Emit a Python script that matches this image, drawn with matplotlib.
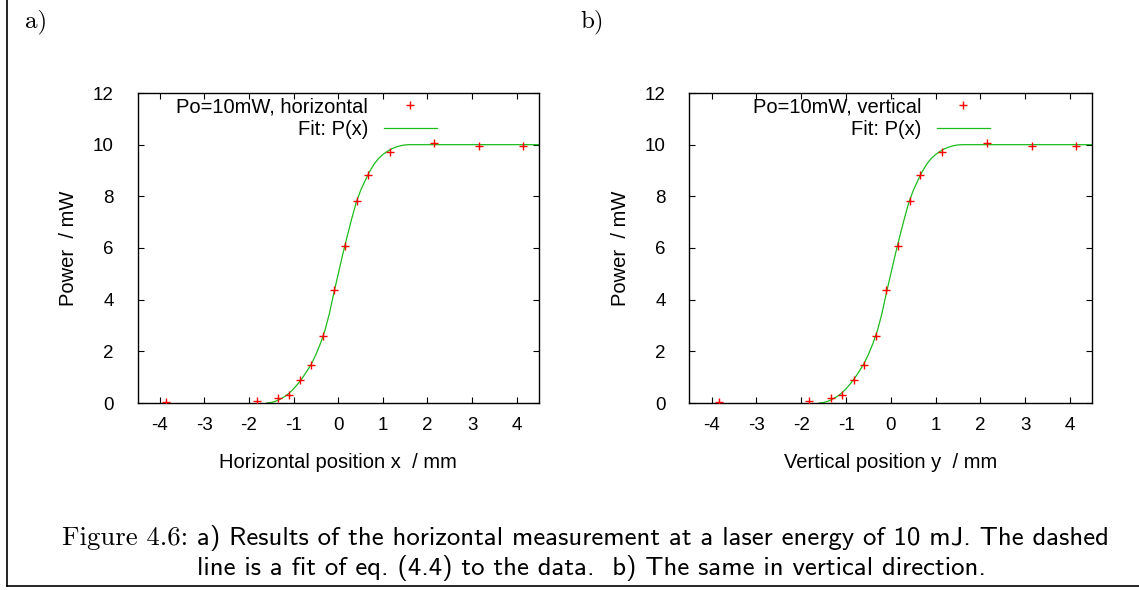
import numpy as np
import matplotlib
matplotlib.use('Agg')
import matplotlib.pyplot as plt
from matplotlib.lines import Line2D

x_h = [-3.85, -1.83, -1.34, -1.10, -0.86, -0.60, -0.35, -0.10, 0.15, 0.41, 0.66, 1.16, 2.14, 3.15, 4.15]
p_h = [0.05, 0.09, 0.20, 0.30, 0.88, 1.47, 2.58, 4.38, 6.08, 7.83, 8.83, 9.70, 10.05, 9.96, 9.96]
x_v = [-3.84, -1.83, -1.34, -1.09, -0.83, -0.60, -0.34, -0.10, 0.15, 0.42, 0.66, 1.15, 2.14, 3.15, 4.14]
p_v = [0.05, 0.09, 0.20, 0.30, 0.88, 1.47, 2.58, 4.38, 6.08, 7.83, 8.83, 9.70, 10.05, 9.96, 9.96]

# fit curve P(x)
fit_x = [-1.6, -1.5, -1.4, -1.3, -1.2, -1.1, -1.0, -0.9, -0.8, -0.7, -0.6, -0.5, -0.4,
         -0.3, -0.2, -0.1, 0.0, 0.1, 0.2, 0.3, 0.4, 0.5, 0.6, 0.7, 0.8, 0.9, 1.0, 1.1,
         1.2, 1.3, 1.4, 1.5, 1.6, 4.5]
fit_p = [0.0, 0.02, 0.07, 0.15, 0.25, 0.38, 0.55, 0.75, 0.98, 1.24, 1.52, 1.88, 2.3,
         2.8, 3.45, 4.25, 5.0, 5.75, 6.45, 7.12, 7.75, 8.22, 8.6, 8.95, 9.24, 9.46, 9.62, 9.74,
         9.84, 9.91, 9.96, 9.99, 10.0, 10.0]

xticks = [-4, -3, -2, -1, 0, 1, 2, 3, 4]
yticks = [0, 2, 4, 6, 8, 10, 12]

W, H = 1139, 590
plt.rcParams['font.family'] = ['Liberation Sans', 'DejaVu Sans']
plt.rcParams['axes.unicode_minus'] = False
fig = plt.figure(figsize=(W / 100, H / 100), dpi=100)

green = '#1cbc1c'
fs = 14.5


def panel(rect, xs, ps, key, xlabel):
    ax = fig.add_axes(rect)
    pts, = ax.plot(xs, ps, '+', color='red', ms=5.5, mew=1.0, label=key, zorder=3)
    fit, = ax.plot(fit_x, fit_p, '-', color=green, lw=0.9, label='Fit: P(x)', zorder=2)
    ax.set_xlim(-4.5, 4.5)
    ax.set_ylim(0, 12)
    ax.set_xticks(xticks)
    ax.set_yticks(yticks)
    ax.tick_params(direction='in', top=True, right=True, length=4, width=0.8,
                   labelsize=13.5, colors='black')
    ax.tick_params(axis='x', pad=10)
    ax.tick_params(axis='y', pad=17)
    for s in ax.spines.values():
        s.set_linewidth(1.0)
    ax.set_xlabel(xlabel, fontsize=fs, labelpad=14)
    ax.set_ylabel('Power  / mW', fontsize=fs, labelpad=11)
    ax.legend(handles=[pts, fit], loc='upper right', bbox_to_anchor=(0.755, 1.0),
              markerfirst=False, frameon=False, fontsize=fs, numpoints=1,
              handlelength=2.6, handletextpad=0.8, labelspacing=0.22, borderpad=0.2,
              borderaxespad=0.0)
    return ax


panel([137.5 / W, 1 - 403 / H, 401.5 / W, 310 / H], x_h, p_h,
      'Po=10mW, horizontal', 'Horizontal position x  / mm')
panel([689.3 / W, 1 - 403 / H, 403 / W, 310 / H], x_v, p_v,
      'Po=10mW, vertical', 'Vertical position y  / mm')

# panel letters
fig.text(25 / W, 1 - 22 / H, 'a)', family='cmr10', fontsize=18, va='center')
fig.text(580 / W, 1 - 22 / H, 'b)', family='cmr10', fontsize=18, va='center')

# caption: roman label followed by the sans-serif text on the same line
cap_fs = 19.3
lab = fig.text(62 / W, 1 - 538 / H, 'Figure 4.6:', family='cmr10', fontsize=cap_fs,
               va='center')
fig.canvas.draw()
x_end = lab.get_window_extent().x1
fig.text((x_end + 9) / W, 1 - 538 / H,
         'a) Results of the horizontal measurement at a laser energy of 10 mJ. The dashed',
         family='cmss10', fontsize=cap_fs, va='center', ha='left')
fig.text(591 / W, 1 - 568 / H,
         'line is a fit of eq. (4.4) to the data.  b) The same in vertical direction.',
         family='cmss10', fontsize=cap_fs, va='center', ha='center')

# frame around the figure
fig.add_artist(Line2D([7 / W, 7 / W], [1 - 586 / H, 1], color='black', lw=1.2))
fig.add_artist(Line2D([7 / W, 1], [1 - 586 / H, 1 - 586 / H], color='black', lw=1.2))

fig.savefig('out.png', dpi=100)
